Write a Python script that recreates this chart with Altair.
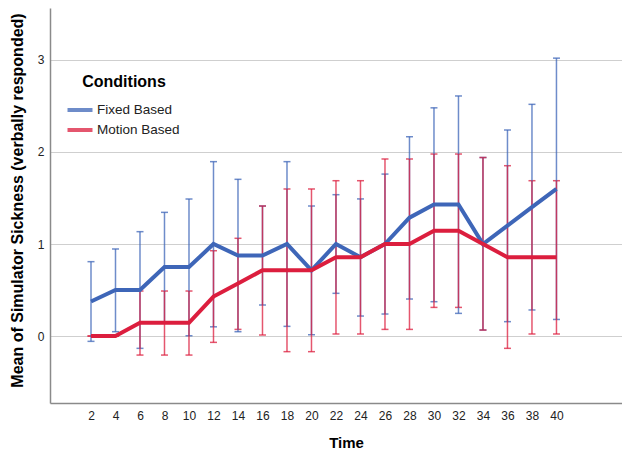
import altair as alt
import pandas as pd

time = [2, 4, 6, 8, 10, 12, 14, 16, 18, 20, 22, 24, 26, 28, 30, 32, 34, 36, 38, 40]
fixed_mean = [0.375, 0.5, 0.5, 0.75, 0.75, 1.0, 0.875, 0.875, 1.0, 0.714,
              1.0, 0.857, 1.0, 1.286, 1.429, 1.429, 1.0, 1.2, 1.4, 1.6]
fixed_lo = [-0.058, 0.047, -0.134, 0.149, 0.003, 0.10, 0.047, 0.337, 0.105, 0.014,
            0.464, 0.217, 0.239, 0.402, 0.373, 0.246, 0.065, 0.156, 0.283, 0.18]
fixed_hi = [0.808, 0.946, 1.134, 1.344, 1.489, 1.895, 1.703, 1.413, 1.895, 1.413,
            1.536, 1.49, 1.76, 2.166, 2.48, 2.609, 1.94, 2.239, 2.518, 3.02]
motion_mean = [0.0, 0.0, 0.143, 0.143, 0.143, 0.429, 0.571, 0.714, 0.714, 0.714,
               0.857, 0.857, 1.0, 1.0, 1.143, 1.143, 1.0, 0.857, 0.857, 0.857]
motion_lo = [0.0, 0.0, -0.207, -0.207, -0.207, -0.069, 0.072, 0.011, -0.17, -0.17,
             0.022, 0.022, 0.072, 0.072, 0.311, 0.311, 0.065, -0.134, 0.022, 0.022]
motion_hi = [0.0, 0.0, 0.489, 0.489, 0.489, 0.927, 1.062, 1.413, 1.598, 1.598,
             1.688, 1.688, 1.924, 1.924, 1.978, 1.978, 1.94, 1.851, 1.688, 1.688]

conditions = ["Fixed Based", "Motion Based"]
colors = ["#3E66B8", "#DC1E3E"]

rows = []
for i, t in enumerate(time):
    rows.append({"Time": t, "Condition": conditions[0], "mean": fixed_mean[i],
                 "lo": fixed_lo[i], "hi": fixed_hi[i]})
for i, t in enumerate(time):
    rows.append({"Time": t, "Condition": conditions[1], "mean": motion_mean[i],
                 "lo": motion_lo[i], "hi": motion_hi[i]})
df = pd.DataFrame(rows)

FONT = "Liberation Sans"

xscale = alt.Scale(domain=[-1.347, 45.35], nice=False, zero=False)
yscale = alt.Scale(domain=[-0.728, 3.565], nice=False, zero=False)

color = alt.Color(
    "Condition:N",
    scale=alt.Scale(domain=conditions, range=colors),
    legend=alt.Legend(
        title="Conditions",
        orient="none",
        legendX=18,
        legendY=66,
        titleFont=FONT,
        titleFontSize=16,
        titleFontWeight="bold",
        titleColor="#000000",
        titleAnchor="middle",
        titlePadding=8,
        labelFont=FONT,
        labelFontSize=13.5,
        labelColor="#222222",
        labelOffset=5,
        symbolType="M-1.25,0H1.25",
        symbolStrokeWidth=4,
        symbolSize=400,
        rowPadding=-12,
        padding=0,
    ),
)

xaxis = alt.Axis(
    values=time,
    title="Time",
    titleFont=FONT,
    titleFontSize=15,
    titleFontWeight="bold",
    titleColor="#000000",
    titleBaseline="alphabetic",
    titleAlign="center",
    titleX=296,
    titleY=44,
    labelFont=FONT,
    labelFontSize=12,
    labelColor="#222222",
    labelPadding=7,
    ticks=False,
    grid=False,
    domainColor="#8A8A8A",
    domainWidth=1.5,
)
yaxis = alt.Axis(
    values=[0, 1, 2, 3],
    format="d",
    title="Mean of Simulator Sickness (verbally responded)",
    titleFont=FONT,
    titleFontSize=16,
    titleFontWeight="bold",
    titleColor="#000000",
    titleBaseline="alphabetic",
    titleX=-28,
    titleY=192,
    labelFont=FONT,
    labelFontSize=12,
    labelColor="#222222",
    labelPadding=6,
    ticks=False,
    grid=True,
    gridColor="#CFCFCF",
    gridWidth=1,
    domainColor="#8A8A8A",
    domainWidth=1.5,
)

base = alt.Chart(df)

bars = base.mark_errorbar(ticks=True, thickness=1.5, size=7, opacity=0.75).encode(
    x=alt.X("Time:Q", scale=xscale, axis=xaxis),
    y=alt.Y("lo:Q", scale=yscale, axis=yaxis),
    y2="hi:Q",
    color=color,
)

lines = base.mark_line(strokeWidth=4).encode(
    x=alt.X("Time:Q", scale=xscale, axis=xaxis),
    y=alt.Y("mean:Q", scale=yscale, axis=yaxis),
    color=color,
)

chart = (
    alt.layer(bars, lines)
    .properties(
        width=572,
        height=395,
        autosize=alt.AutoSizeParams(type="none"),
        padding={"left": 42, "top": 0, "right": 0, "bottom": 46},
        background="white",
    )
    .configure_view(stroke=None)
)

chart.save("out.html", embed_options={"renderer": "svg", "actions": False})
